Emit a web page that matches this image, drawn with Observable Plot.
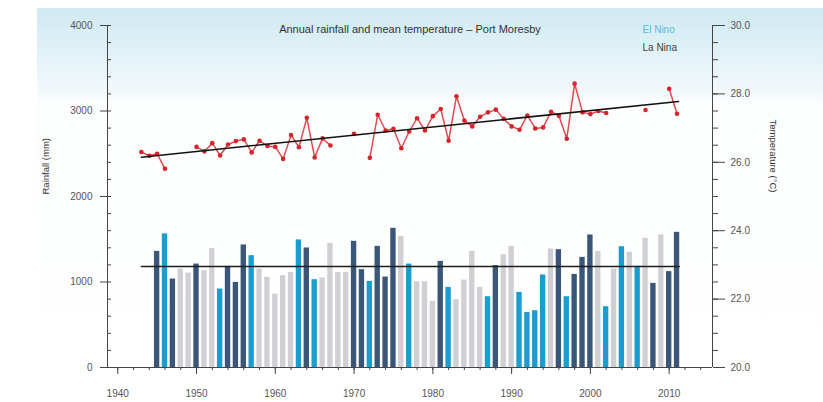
<!DOCTYPE html>
<html><head><meta charset="utf-8">
<script src="https://cdn.jsdelivr.net/npm/d3@7"></script>
<script src="https://cdn.jsdelivr.net/npm/@observablehq/plot@0.6"></script>
<style>
body{margin:0;background:#fff;}
#wrap{position:relative;width:823px;height:402px;overflow:hidden;}
#bg{position:absolute;left:37px;top:8px;right:0;bottom:0;background:linear-gradient(to bottom,#d0e9f2 0px,#ddf0f6 35px,#ecf6fa 70px,#f5fafc 88px,#fcfefe 96px,#ffffff 394px);}
#chart{position:absolute;left:0;top:0;}
</style></head><body>
<div id="wrap"><div id="bg"></div><div id="chart"></div></div>
<script>
const rainYears = [1945,1946,1947,1948,1949,1950,1951,1952,1953,1954,1955,1956,1957,1958,1959,1960,1961,1962,1963,1964,1965,1966,1967,1968,1969,1970,1971,1972,1973,1974,1975,1976,1977,1978,1979,1980,1981,1982,1983,1984,1985,1986,1987,1988,1989,1990,1991,1992,1993,1994,1995,1996,1997,1998,1999,2000,2001,2002,2003,2004,2005,2006,2007,2008,2009,2010,2011];
const rainfall = [1358,1562,1035,1152,1105,1210,1132,1393,918,1183,995,1433,1308,1152,1054,859,1074,1112,1492,1398,1027,1047,1452,1112,1112,1476,1144,1007,1417,1058,1628,1534,1210,1003,1003,773,1241,937,793,1023,1358,937,828,1191,1320,1417,878,644,664,1082,1386,1378,828,1089,1288,1550,1358,711,1152,1413,1347,1183,1511,984,1550,1121,1581];
const enso = ["La Nina","El Nino","La Nina","Neutral","Neutral","La Nina","Neutral","Neutral","El Nino","La Nina","La Nina","La Nina","El Nino","Neutral","Neutral","Neutral","Neutral","Neutral","El Nino","La Nina","El Nino","Neutral","Neutral","Neutral","Neutral","La Nina","La Nina","El Nino","La Nina","La Nina","La Nina","Neutral","El Nino","Neutral","Neutral","Neutral","La Nina","El Nino","Neutral","Neutral","Neutral","Neutral","El Nino","La Nina","Neutral","Neutral","El Nino","El Nino","El Nino","El Nino","Neutral","La Nina","El Nino","La Nina","La Nina","La Nina","Neutral","El Nino","Neutral","El Nino","Neutral","El Nino","Neutral","La Nina","Neutral","La Nina","La Nina"];
const tempYears = [1943,1944,1945,1946,1947,1948,1949,1950,1951,1952,1953,1954,1955,1956,1957,1958,1959,1960,1961,1962,1963,1964,1965,1966,1967,1968,1969,1970,1971,1972,1973,1974,1975,1976,1977,1978,1979,1980,1981,1982,1983,1984,1985,1986,1987,1988,1989,1990,1991,1992,1993,1994,1995,1996,1997,1998,1999,2000,2001,2002,2003,2004,2005,2006,2007,2008,2009,2010,2011];
const temps = [26.30,26.19,26.25,25.81,null,null,null,26.45,26.32,26.56,26.20,26.52,26.62,26.67,26.29,26.63,26.48,26.45,26.10,26.80,26.44,27.30,26.14,26.70,26.49,null,null,26.83,null,26.13,27.39,26.93,26.98,26.41,26.90,27.29,26.93,27.35,27.56,26.63,27.93,27.22,27.05,27.33,27.46,27.54,27.27,27.05,26.95,27.37,26.99,27.02,27.48,27.36,26.69,28.30,27.46,27.41,27.50,27.44,null,null,null,null,27.53,null,null,28.15,27.42];
const trendYears = [1943, 2011.2];
const trendTemps = [26.15, 27.78];
const meanYears = [1943, 2011.3];
const meanRain = [1180, 1180];
const rainTicks = [0, 1000, 2000, 3000, 4000];
const tempTicks = [20, 22, 24, 26, 28, 30];
const yearTicks = [1940, 1950, 1960, 1970, 1980, 1990, 2000, 2010];
const legendLabels = ["El Nino", "La Nina"];
const title = "Annual rainfall and mean temperature \u2013 Port Moresby";

const xDomain = [1938.7, 2015.5];
const t2y = t => (t == null ? NaN : (t - 20) * 400);
const bars = rainYears.map((year, i) => ({year, rain: rainfall[i], phase: enso[i]}));
const temp = tempYears.map((year, i) => ({year, t: temps[i]}));
const trend = trendYears.map((year, i) => ({year, t: trendTemps[i]}));
const mean = meanYears.map((year, i) => ({year, rain: meanRain[i]}));
const minorY = d3.range(0, 4001, 200);
const minorX = d3.range(1940, 2015, 2);
const axisColor = "#454545";
const labelColor = "#555";

const chart = Plot.plot({
  width: 823, height: 402,
  marginLeft: 107, marginRight: 111, marginTop: 25, marginBottom: 35,
  x: {domain: xDomain},
  y: {domain: [0, 4000]},
  color: {domain: ["El Nino", "La Nina", "Neutral"], range: ["#1c9dd0", "#3a5678", "#d0d0d4"]},
  style: {background: "transparent", fontFamily: "'Liberation Sans', Arial, sans-serif", fontSize: "10px", color: labelColor},
  marks: [
    Plot.rect(bars, {x1: d => d.year - 0.34, x2: d => d.year + 0.34, y1: 0, y2: "rain", fill: "phase"}),
    Plot.line(mean, {x: "year", y: "rain", stroke: "#1e1e1e", strokeWidth: 1.5}),
    Plot.line(temp, {x: "year", y: d => t2y(d.t), stroke: "#e24a50", strokeWidth: 1.5}),
    Plot.dot(temp.filter(d => d.t != null), {x: "year", y: d => t2y(d.t), r: 2.3, fill: "#d7232b", stroke: "none"}),
    Plot.line(trend, {x: "year", y: d => t2y(d.t), stroke: "#111", strokeWidth: 1.5}),
    Plot.ruleY([0], {stroke: axisColor}),
    Plot.ruleX(xDomain, {stroke: axisColor}),
    Plot.axisY({ticks: rainTicks, anchor: "left", tickSize: 7, tickPadding: 8, tickFormat: d => String(d), label: null, stroke: axisColor, fill: labelColor}),
    Plot.axisY({ticks: minorY, anchor: "left", tickSize: 4, dx: 4, tickFormat: () => "", label: null, stroke: axisColor}),
    Plot.axisY({ticks: tempTicks.map(t2y), anchor: "right", tickSize: 12, tickPadding: 6, tickFormat: d => (20 + d / 400).toFixed(1), label: null, stroke: axisColor, fill: labelColor}),
    Plot.axisY({ticks: minorY, anchor: "right", tickSize: 5, tickFormat: () => "", label: null, stroke: axisColor}),
    Plot.axisX({ticks: yearTicks, anchor: "bottom", tickSize: 7, tickPadding: 15, tickFormat: d => String(d), label: null, stroke: axisColor, fill: labelColor}),
    Plot.axisX({ticks: minorX, anchor: "bottom", tickSize: 3, tickFormat: () => "", label: null, stroke: axisColor}),
    Plot.text([title], {text: d => d, frameAnchor: "top", fontSize: 11, fill: "#333"}),
    Plot.text([legendLabels[0]], {text: d => d, frameAnchor: "top-right", dx: -70, textAnchor: "start", fontSize: 10, fill: "#5ab8dd"}),
    Plot.text([legendLabels[1]], {text: d => d, frameAnchor: "top-right", dx: -70, dy: 18, textAnchor: "start", fontSize: 10, fill: "#444"}),
    Plot.text(["Rainfall (mm)"], {text: d => d, frameAnchor: "left", dx: -62, dy: -2, rotate: -90, fontSize: 9.5, fill: "#333"}),
    Plot.text(["Temperature (\u00b0C)"], {text: d => d, frameAnchor: "right", dx: 61, dy: -4, rotate: 90, fontSize: 9.5, fill: "#333"})
  ]
});
document.getElementById("chart").appendChild(chart);
</script>
</body></html>
